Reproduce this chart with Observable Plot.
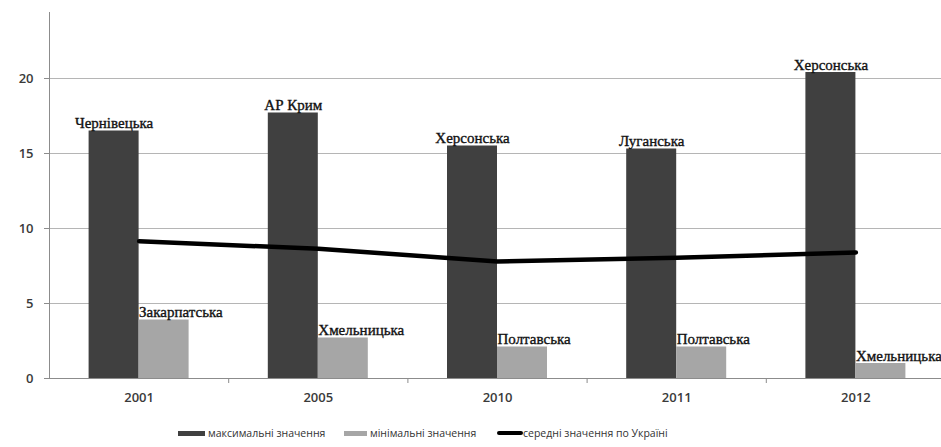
<!DOCTYPE html>
<html>
<head>
<meta charset="utf-8">
<script src="https://cdn.jsdelivr.net/npm/d3@7"></script>
<script src="https://cdn.jsdelivr.net/npm/@observablehq/plot@0.6"></script>
<style>
  html, body { margin: 0; padding: 0; background: #fff; }
  #chart { width: 941px; overflow: hidden; }
  #legend { position: relative; width: 941px; height: 32px; font-family: "Open Sans", sans-serif; font-size: 10.5px; color: #333; }
  #legend .item { position: absolute; top: 11px; display: flex; align-items: center; white-space: nowrap; }
  #legend .sw { display: inline-block; margin-right: 3px; }
</style>
</head>
<body>
<div id="chart"></div>
<div id="legend"></div>
<script>
// Years on the category axis
const years = ["2001", "2005", "2010", "2011", "2012"];
// Maximum values and the regions that reached them
const maxValues = [16.5, 17.7, 15.5, 15.3, 20.4];
const maxRegions = ["Чернівецька", "АР Крим", "Херсонська", "Луганська", "Херсонська"];
// Minimum values and the regions that reached them
const minValues = [3.9, 2.7, 2.1, 2.1, 1.0];
const minRegions = ["Закарпатська", "Хмельницька", "Полтавська", "Полтавська", "Хмельницька"];
// Average over Ukraine
const meanValues = [9.15, 8.65, 7.8, 8.05, 8.4];
// Value axis ticks
const yTicks = [0, 5, 10, 15, 20];
// Legend labels
const seriesNames = ["максимальні значення", "мінімальні значення", "середні значення по Україні"];

const rows = years.map((year, i) => ({
  year,
  max: maxValues[i], maxRegion: maxRegions[i],
  min: minValues[i], minRegion: minRegions[i],
  mean: meanValues[i]
}));

const W = 941, H = 415;
const marginLeft = 49, marginRight = -4;
const step = (W - marginLeft - marginRight) / years.length;
const barW = 50;
const axisColor = "#8c8c8c";
const darkFill = "#404040", lightFill = "#a6a6a6";
const labelFont = {
  fontFamily: "Liberation Serif", fontSize: 15, fill: "#111",
  stroke: "#111", strokeWidth: 0.35, lineAnchor: "bottom", dy: -3
};

const chart = Plot.plot({
  width: W,
  height: H,
  marginLeft,
  marginRight,
  marginTop: 12,
  marginBottom: 37,
  x: { domain: years, padding: 0, round: false, label: null },
  y: { domain: [0, 24.4], label: null },
  style: { fontFamily: "Open Sans", fontSize: "13px", color: "#333", overflow: "hidden", background: "#fff" },
  marks: [
    Plot.gridY(yTicks.slice(1), { stroke: "#b5b5b5", strokeOpacity: 1 }),
    Plot.barY(rows, { x: "year", y: "max", fill: darkFill, insetLeft: step / 2 - barW, insetRight: step / 2 }),
    Plot.barY(rows, { x: "year", y: "min", fill: lightFill, insetLeft: step / 2, insetRight: step / 2 - barW }),
    Plot.line(rows, { x: "year", y: "mean", stroke: "#000", strokeWidth: 4.5 }),
    Plot.text(rows, { x: "year", y: "max", text: "maxRegion", dx: -barW / 2, ...labelFont }),
    Plot.text(rows, { x: "year", y: "min", text: "minRegion", textAnchor: "start", ...labelFont }),
    // category axis line and tick marks between the year groups
    Plot.ruleY([0], { stroke: axisColor, insetLeft: -5 }),
    Plot.ruleX(years.slice(1), { x: d => d, dx: -step / 2, y1: 0, y2: 0, insetBottom: -5, stroke: axisColor }),
    // value axis line
    Plot.ruleX([years[0]], { x: d => d, dx: -step / 2, y1: 0, y2: 24.4, stroke: axisColor }),
    Plot.axisX({ tickSize: 0, tickPadding: 14, fontSize: 13, fontWeight: 600, fill: "#3a3a3a" }),
    Plot.axisY({ ticks: yTicks, tickSize: 5, tickPadding: 11, stroke: axisColor, fontSize: 13, fontWeight: 600, fill: "#3a3a3a" })
  ]
});
document.getElementById("chart").appendChild(chart);

// Legend below the plot
const legend = d3.select("#legend");
const legendItems = [
  { name: seriesNames[0], left: 178, w: 27, h: 5, color: darkFill },
  { name: seriesNames[1], left: 344, w: 23, h: 5, color: lightFill },
  { name: seriesNames[2], left: 497, w: 26, h: 4, color: "#000", round: true }
];
legendItems.forEach(d => {
  const item = legend.append("div").attr("class", "item").style("left", d.left + "px");
  item.append("span").attr("class", "sw")
    .style("width", d.w + "px").style("height", d.h + "px")
    .style("background", d.color)
    .style("border-radius", d.round ? "2px" : "0")
    .style("margin-right", d.round ? "0px" : "3px");
  item.append("span").text(d.name);
});
</script>
</body>
</html>
